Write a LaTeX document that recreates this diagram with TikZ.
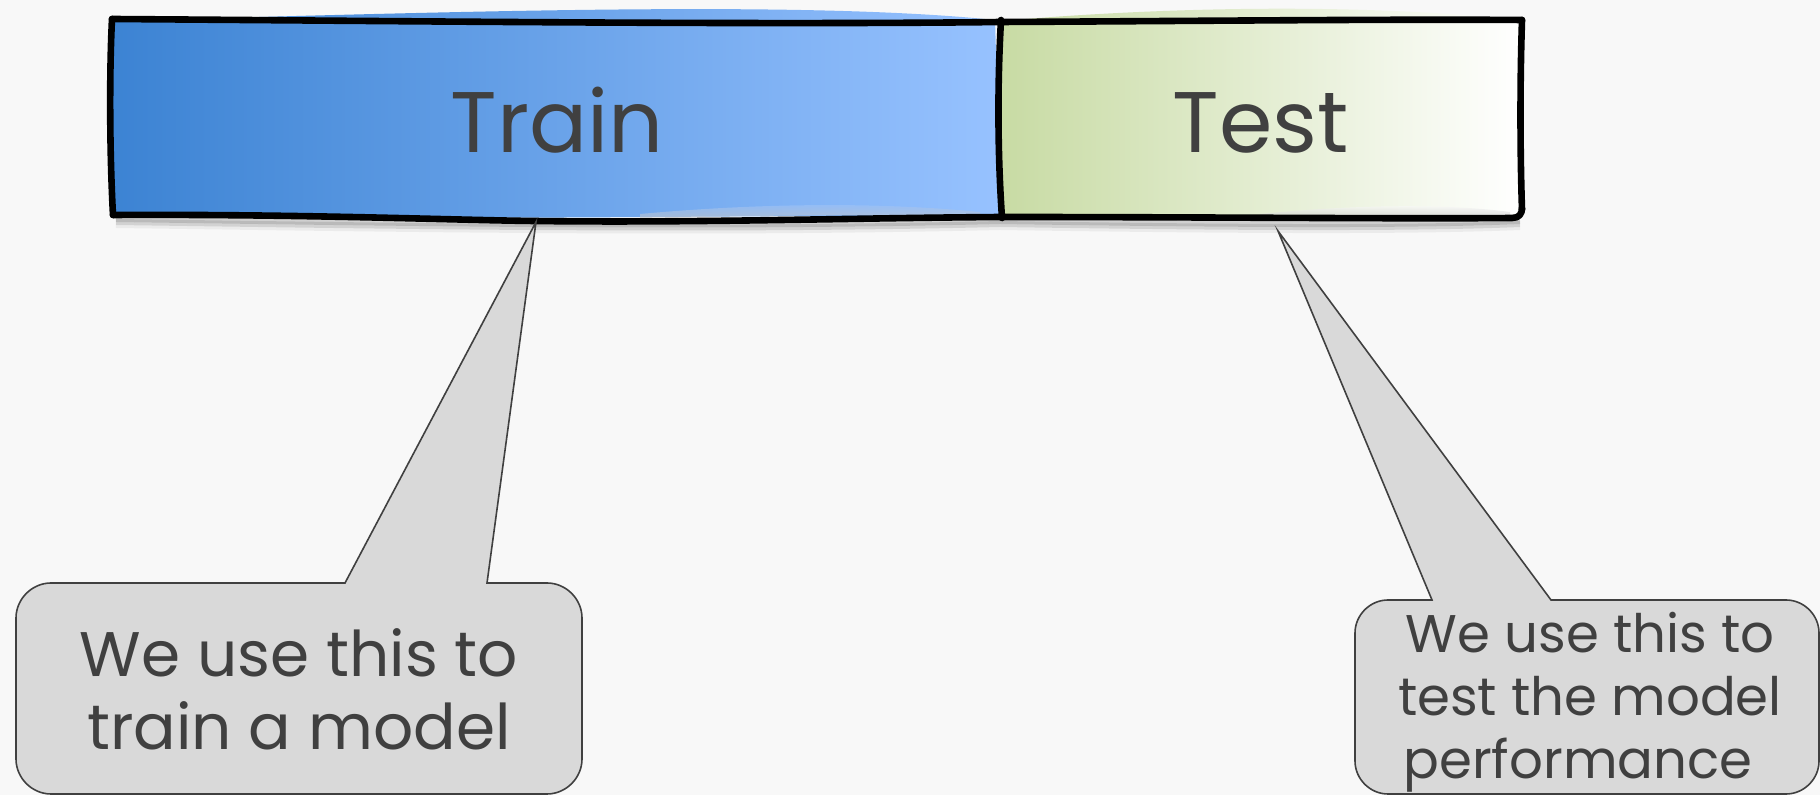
\documentclass[tikz,border=0pt]{standalone}
\usepackage{fontspec}
\setmainfont{Poppins}
\definecolor{bg}{HTML}{F8F8F8}
\definecolor{txt}{HTML}{404040}
\definecolor{blueL}{HTML}{3C83D3}
\definecolor{blueM}{HTML}{7BADF0}
\definecolor{blueR}{HTML}{97C2FF}
\definecolor{greenL}{HTML}{C8DBA4}
\definecolor{callfill}{HTML}{D9D9D9}
\definecolor{callline}{HTML}{404040}
\tikzset{
  border/.style={line width=3.3pt, black, line cap=round, line join=round},
  callout/.style={fill=callfill, draw=callline, line width=0.8pt, line join=miter},
  title/.style={text=txt, font=\fontsize{43}{50}\selectfont, anchor=base, inner sep=0pt},
  bigtext/.style={text=txt, font=\fontsize{31.5}{36}\selectfont, anchor=base, inner sep=0pt},
  smalltext/.style={text=txt, font=\fontsize{26.5}{31}\selectfont, anchor=base, inner sep=0pt},
}
\begin{document}
\begin{tikzpicture}[x=0.5pt,y=-0.5pt]
\fill[bg] (0,0) rectangle (1820,795);
\useasboundingbox (0,0) rectangle (1820,795);

% soft shadows under the boxes
\foreach \d/\o in {4/0.16,7/0.10,10/0.05}{
  \draw[line width=3pt, black, opacity=\o] (116,215+\d) .. controls (400,219+\d) and (700,224+\d) .. (1000,217+\d)
     .. controls (1200,220+\d) and (1400,222+\d) .. (1520,217+\d);
}

% Train fill
\shade[left color=blueL, middle color=blueM, right color=blueR]
  (112,21) .. controls (450,12) and (800,0) .. (995,20)
  -- (1001,216) .. controls (800,214) and (400,222) .. (113,215) -- cycle;
% Test fill
\shade[left color=greenL, right color=white]
  (1002,21) .. controls (1150,8) and (1350,2) .. (1518,20)
  -- (1520,217) .. controls (1400,214) and (1200,216) .. (1002,218) -- cycle;

% curl highlights above the bottom borders
\shade[top color=blueR, bottom color=gray!45, opacity=0.6]
  (640,214) .. controls (760,203) and (880,202) .. (980,212) -- (980,216) .. controls (850,214) and (740,216) .. (640,218) -- cycle;
\shade[top color=white, bottom color=gray!45, opacity=0.6]
  (1260,214) .. controls (1360,204) and (1450,204) .. (1510,212) -- (1510,217) .. controls (1420,215) and (1340,216) .. (1260,218) -- cycle;

% borders
\draw[border] (112,19) .. controls (400,21) and (750,25) .. (1001,22)
  .. controls (1200,21) and (1400,19) .. (1522,20);
\draw[border] (112,19) .. controls (109,80) and (110,160) .. (113,215);
\draw[border] (113,215) .. controls (300,214) and (450,220) .. (534,221)
  .. controls (700,223) and (850,218) .. (1002,217)
  .. controls (1200,217) and (1400,219) .. (1512,218) .. controls (1519,218) and (1522,214) .. (1522,208);
\draw[border] (1522,20) .. controls (1520,80) and (1520,150) .. (1522,210);
\draw[border] (1001,20) .. controls (997,90) and (998,160) .. (1002,218);

\node[title] (train) at (557,153) {Train};
\node[title] (test) at (1261,153) {Test};

% callout anchors
\coordinate (tipL) at (536,222);
\coordinate (tipR) at (1278,231);

% left callout
\draw[callout] (16,618) .. controls (16,599) and (32,583) .. (51,583)
  -- (345,583) -- (tipL) -- (487,583) -- (547,583)
  .. controls (566,583) and (582,599) .. (582,618)
  -- (582,759) .. controls (582,778) and (566,794) .. (547,794)
  -- (51,794) .. controls (32,794) and (16,778) .. (16,759) -- cycle;
% right callout
\draw[callout] (1355,633) .. controls (1355,615) and (1370,600) .. (1388,600)
  -- (1432,600) -- (tipR) -- (1551,600) -- (1786,600)
  .. controls (1804,600) and (1819,615) .. (1819,633)
  -- (1819,761) .. controls (1819,779) and (1804,794) .. (1786,794)
  -- (1388,794) .. controls (1370,794) and (1355,779) .. (1355,761) -- cycle;

\node[bigtext] (l1) at (299,677) {We use this to};
\node[bigtext] (l2) at (299,749) {train a model};

\node[smalltext] (r1) at (1590,653) {We use this to};
\node[smalltext] (r2) at (1590,716) {test the model};
\node[smalltext] (r3) at (1578,778) {performance};
\end{tikzpicture}
\end{document}
